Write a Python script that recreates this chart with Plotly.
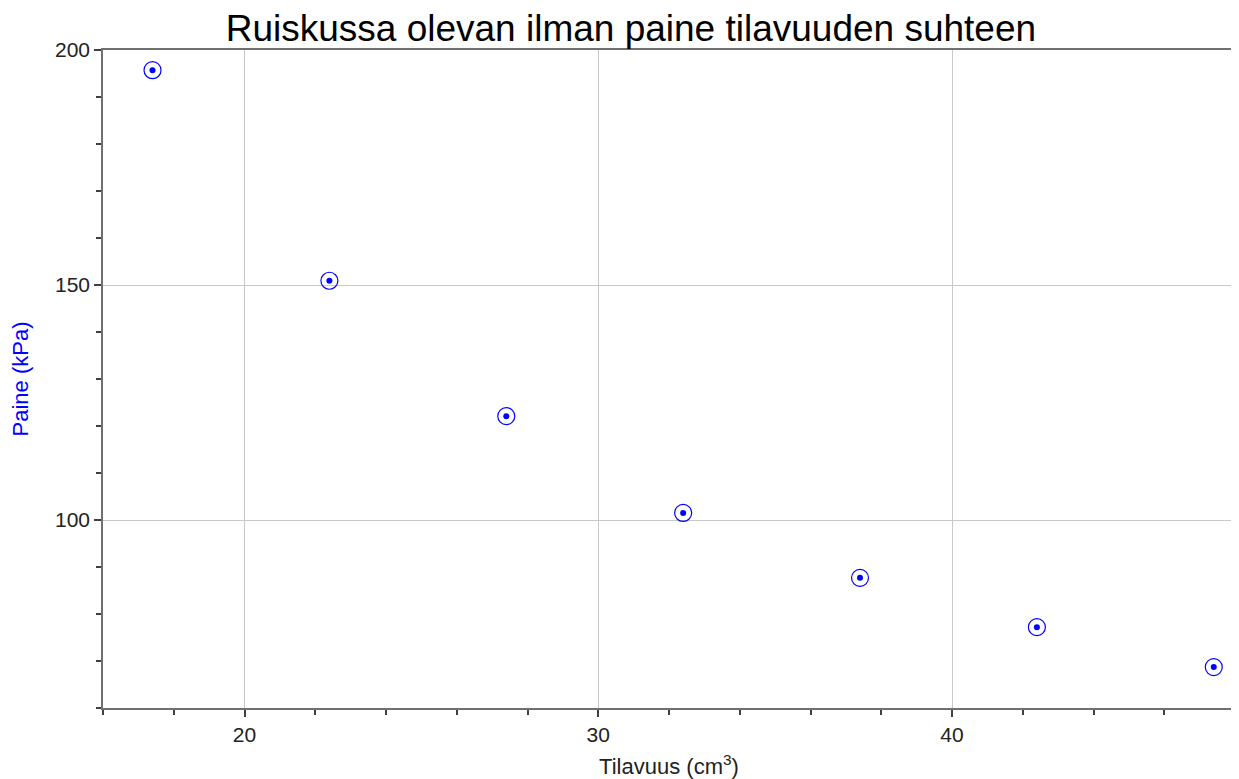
import plotly.graph_objects as go

volume_cm3 = [17.4, 22.4, 27.4, 32.4, 37.4, 42.4, 47.4]
pressure_kpa = [195.7, 150.9, 122.1, 101.5, 87.7, 77.2, 68.7]

title_text = "Ruiskussa olevan ilman paine tilavuuden suhteen"
x_title = "Tilavuus (cm<sup>3</sup>)"
y_title = "Paine (kPa)"

font_family = "Liberation Sans, Arial, sans-serif"
blue = "#0000ff"

fig = go.Figure()
fig.add_trace(go.Scatter(
    x=volume_cm3, y=pressure_kpa, mode="markers",
    marker=dict(symbol="circle-open", size=17, color=blue, line=dict(width=1.2, color=blue)),
    hoverinfo="skip", showlegend=False,
))
fig.add_trace(go.Scatter(
    x=volume_cm3, y=pressure_kpa, mode="markers",
    marker=dict(symbol="circle", size=6, color=blue, line=dict(width=0)),
    showlegend=False,
))

axis_common = dict(
    showgrid=True, gridcolor="#c8c8c8", gridwidth=1,
    showline=True, linecolor="#707070", linewidth=1.5, mirror=True,
    ticks="outside", ticklen=7, tickcolor="#404040", tickwidth=1.5,
    tickfont=dict(family=font_family, size=21, color="#222222"),
    zeroline=False,
)

# page body has an 8px margin, so the figure is sized to fit inside it
fig.update_layout(
    width=1231, height=771,
    paper_bgcolor="white", plot_bgcolor="white",
    margin=dict(l=95, r=2, t=42, b=68),
    title=dict(text=title_text, x=0.506, xanchor="center", y=0.991, yanchor="top",
               font=dict(family=font_family, size=37, color="black")),
    xaxis=dict(
        range=[16, 48], tick0=0, dtick=10,
        minor=dict(dtick=2, tick0=0, ticks="outside", ticklen=5, tickcolor="#404040", showgrid=False),
        title=dict(text=x_title, font=dict(family=font_family, size=22, color="#222222"), standoff=16),
        **axis_common,
    ),
    yaxis=dict(
        range=[60, 200], tick0=0, dtick=50,
        minor=dict(dtick=10, tick0=0, ticks="outside", ticklen=5, tickcolor="#404040", showgrid=False),
        title=dict(text=y_title, font=dict(family=font_family, size=22, color=blue), standoff=20),
        **axis_common,
    ),
)

fig.write_html("out.html")
